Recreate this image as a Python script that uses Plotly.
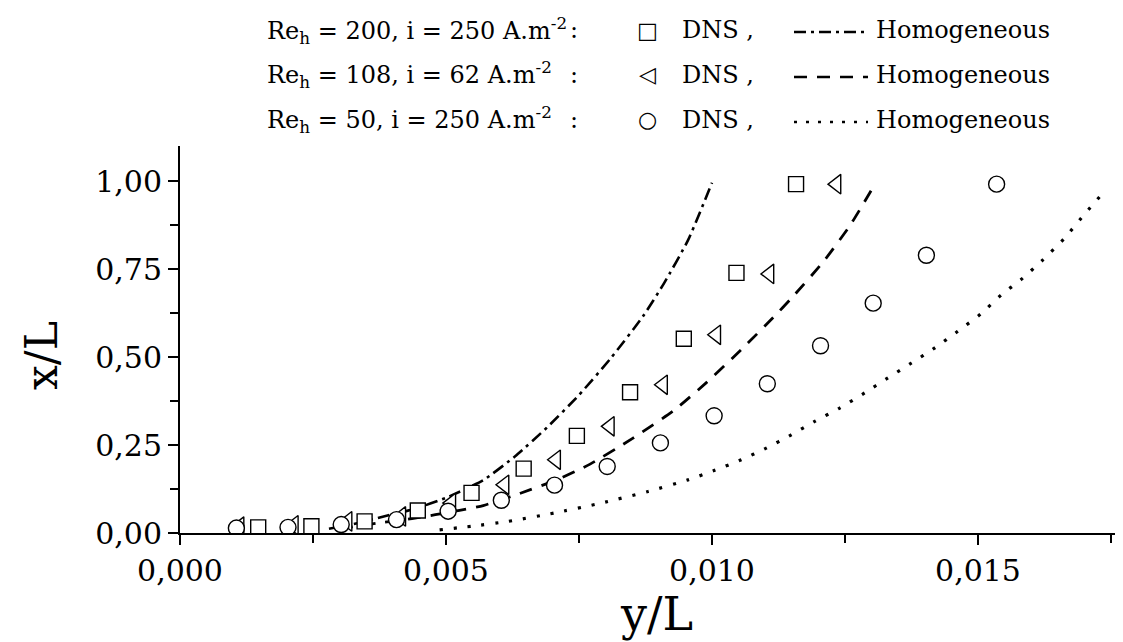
import plotly.graph_objects as go

# ---------------- data ----------------
# DNS, Re_h = 200, i = 250 A.m-2  (squares)
sq_y = [0.00147, 0.00247, 0.00347, 0.00447, 0.00548, 0.00646, 0.00746, 0.00846, 0.00947, 0.01046, 0.01158]
sq_x = [0.016, 0.019, 0.033, 0.064, 0.114, 0.183, 0.276, 0.400, 0.552, 0.739, 0.991]

# DNS, Re_h = 108, i = 62 A.m-2  (left triangles)
tr_y = [0.00112, 0.00214, 0.00315, 0.00416, 0.00510, 0.00610, 0.00707, 0.00808, 0.00908, 0.01008, 0.01108, 0.01234]
tr_x = [0.018, 0.022, 0.033, 0.047, 0.085, 0.137, 0.208, 0.303, 0.421, 0.563, 0.736, 0.991]

# DNS, Re_h = 50, i = 250 A.m-2  (circles)
ci_y = [0.00106, 0.00203, 0.00303, 0.00407, 0.00504, 0.00604, 0.00704, 0.00803, 0.00903, 0.01004, 0.01104, 0.01204, 0.01303, 0.01403, 0.01535]
ci_x = [0.014, 0.016, 0.024, 0.038, 0.062, 0.093, 0.136, 0.189, 0.256, 0.333, 0.424, 0.532, 0.653, 0.789, 0.991]

# Homogeneous model curves
h200_y = [0.0028, 0.0034, 0.0039, 0.0044, 0.0050, 0.0057, 0.0063, 0.0069, 0.0075, 0.0081, 0.0087, 0.0091, 0.00955, 0.0100]
h200_x = [0.012, 0.030, 0.050, 0.068, 0.100, 0.150, 0.218, 0.300, 0.392, 0.497, 0.615, 0.710, 0.832, 0.995]

h108_y = [0.0030, 0.0038, 0.00436, 0.0048, 0.0057, 0.0064, 0.0071, 0.0077, 0.0085, 0.0093, 0.0099, 0.01055, 0.01115, 0.0115, 0.0121, 0.0126, 0.01306]
h108_x = [0.012, 0.030, 0.041, 0.052, 0.078, 0.113, 0.152, 0.195, 0.268, 0.350, 0.428, 0.521, 0.612, 0.668, 0.772, 0.875, 0.990]

h50_y = [0.00488, 0.00548, 0.00617, 0.00704, 0.00792, 0.0088, 0.00955, 0.01005, 0.01055, 0.01102, 0.01149, 0.01193, 0.0124,
         0.01287, 0.0133, 0.01375, 0.01419, 0.01462, 0.01505, 0.01544, 0.01581, 0.01622, 0.01663, 0.01697, 0.01732]
h50_x = [0.009, 0.019, 0.033, 0.057, 0.085, 0.118, 0.151, 0.178, 0.208, 0.241, 0.279, 0.317, 0.355,
         0.398, 0.440, 0.483, 0.526, 0.573, 0.622, 0.677, 0.720, 0.776, 0.838, 0.900, 0.961]

legend_cases = ["Re<sub>h</sub> = 200, i = 250 A.m<sup>-2</sup>",
                "Re<sub>h</sub> = 108, i = 62 A.m<sup>-2</sup>",
                "Re<sub>h</sub> = 50, i = 250 A.m<sup>-2</sup>"]
legend_symbols = ["\u25A1", "\u25C1", "\u25CB"]
legend_dashes = ["dashdot", "dash", "dot"]

x_ticks = [0.000, 0.005, 0.010, 0.015]
y_ticks = [0.00, 0.25, 0.50, 0.75, 1.00]

# ---------------- figure ----------------
W, H = 1123, 642
L, R, T, B = 172, 0, 138, 117
PW, PH = W - L - R, H - T - B

SERIF = "DejaVu Serif"
BLACK = "#000000"

fig = go.Figure()

curve_specs = [
    (h200_y, h200_x, "12px,5px,3px,5px", 2.6),
    (h108_y, h108_x, "13px,10px", 2.8),
    (h50_y, h50_x, "3px,11px", 3.2),
]
for xs, ys, dash, lw in curve_specs:
    fig.add_trace(go.Scatter(x=xs, y=ys, mode="lines",
                             line=dict(color=BLACK, width=lw, dash=dash, shape="spline", smoothing=0.5),
                             showlegend=False, hoverinfo="skip"))

marker_specs = [
    (tr_y, tr_x, "triangle-left", 17),
    (sq_y, sq_x, "square", 15),
    (ci_y, ci_x, "circle", 16),
]
for xs, ys, sym, size in marker_specs:
    fig.add_trace(go.Scatter(x=xs, y=ys, mode="markers",
                             marker=dict(symbol=sym, size=size, color="white", line=dict(color=BLACK, width=1.4)),
                             showlegend=False, hoverinfo="skip"))

xmax = PW / 53200.0
ymax = PH / 352.0

fig.update_xaxes(range=[0, xmax], tickvals=x_ticks, tickformat=".3f", showline=True, linecolor=BLACK, linewidth=2,
                 ticks="outside", ticklen=10, tickwidth=2, tickcolor=BLACK, showgrid=False, zeroline=False,
                 tickfont=dict(family=SERIF, size=30, color=BLACK),
                 minor=dict(dtick=0.0025, ticks="outside", ticklen=8, tickwidth=2, tickcolor=BLACK, showgrid=False))
fig.update_yaxes(range=[0, ymax], tickvals=y_ticks, tickformat=".2f", showline=True, linecolor=BLACK, linewidth=2,
                 ticks="outside", ticklen=10, tickwidth=2, tickcolor=BLACK, showgrid=False, zeroline=False,
                 tickfont=dict(family=SERIF, size=30, color=BLACK),
                 minor=dict(dtick=0.125, ticks="outside", ticklen=8, tickwidth=2, tickcolor=BLACK, showgrid=False))


def px(xp):
    return (xp - L) / PW


def py(yp):
    return (H - B - yp) / PH


annotations = [
    dict(text="x/L", x=px(33), y=py(348), xref="paper", yref="paper", showarrow=False, textangle=-90,
         font=dict(family=SERIF, size=44, color=BLACK), xanchor="center", yanchor="middle"),
    dict(text="y/L", x=px(648), y=py(606), xref="paper", yref="paper", showarrow=False,
         font=dict(family=SERIF, size=46, color=BLACK), xanchor="center", yanchor="middle"),
]
shapes = []
row_y = [22, 67, 112]
LEG_FONT = dict(family=SERIF, size=24, color=BLACK)
dash_map = {"dashdot": "12px,5px,3px,5px", "dash": "13px,10px", "dot": "3px,9px"}
for i in range(3):
    yy = row_y[i]
    annotations.append(dict(text=legend_cases[i], x=px(257), y=py(yy), xref="paper", yref="paper", showarrow=False,
                            xanchor="left", yanchor="middle", font=LEG_FONT))
    annotations.append(dict(text=":", x=px(566), y=py(yy), xref="paper", yref="paper", showarrow=False,
                            xanchor="center", yanchor="middle", font=LEG_FONT))
    annotations.append(dict(text=legend_symbols[i], x=px(639), y=py(yy), xref="paper", yref="paper", showarrow=False,
                            xanchor="center", yanchor="middle", font=dict(family="DejaVu Sans", size=22, color=BLACK)))
    annotations.append(dict(text="DNS ,", x=px(672), y=py(yy), xref="paper", yref="paper", showarrow=False,
                            xanchor="left", yanchor="middle", font=LEG_FONT))
    annotations.append(dict(text="Homogeneous", x=px(866), y=py(yy), xref="paper", yref="paper", showarrow=False,
                            xanchor="left", yanchor="middle", font=LEG_FONT))
    shapes.append(dict(type="line", xref="paper", yref="paper", x0=px(786), x1=px(860), y0=py(yy + 2), y1=py(yy + 2),
                       line=dict(color=BLACK, width=2.6, dash=dash_map[legend_dashes[i]])))

fig.update_layout(
    width=W, height=H, margin=dict(l=L, r=R, t=T, b=B, autoexpand=False),
    paper_bgcolor="white", plot_bgcolor="white",
    separators=", ",
    annotations=annotations, shapes=shapes,
    showlegend=False,
)

fig.write_html("out.html")
